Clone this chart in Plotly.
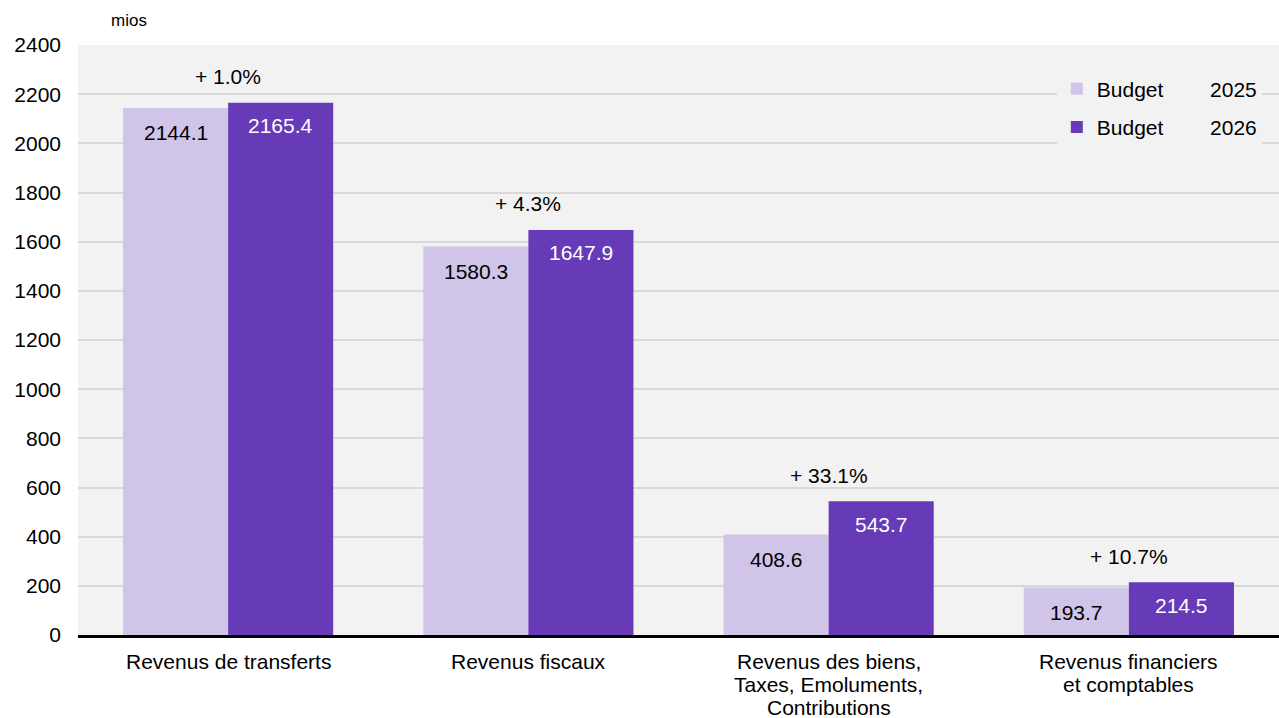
import plotly.graph_objects as go

categories = ["Revenus de transferts", "Revenus fiscaux",
              "Revenus des biens,<br>Taxes, Emoluments,<br>Contributions",
              "Revenus financiers<br>et comptables"]
budget_2025 = [2144.1, 1580.3, 408.6, 193.7]
budget_2026 = [2165.4, 1647.9, 543.7, 214.5]
pct_change = ["+ 1.0%", "+ 4.3%", "+ 33.1%", "+ 10.7%"]
series_names = ["Budget" + "\u00a0" * 8 + "2025",
                "Budget" + "\u00a0" * 8 + "2026"]
y_ticks = list(range(0, 2401, 200))
unit_label = "mios"

FONT = "Liberation Sans, Arial, sans-serif"
C25 = "#D1C4E9"
C26 = "#673AB7"
BG = "#F2F2F2"

x_idx = list(range(len(categories)))

fig = go.Figure()
fig.add_trace(go.Bar(x=x_idx, y=budget_2025, name=series_names[0], legendgroup="a",
                     marker=dict(color=C25, line=dict(width=0))))
fig.add_trace(go.Bar(x=x_idx, y=budget_2026, name=series_names[1], legendgroup="b",
                     marker=dict(color=C26, line=dict(width=0))))

annotations = []
bw = 0.7 / 2
for i, cat in enumerate(categories):
    annotations.append(dict(x=i - bw / 2, y=budget_2025[i], xref="x", yref="y",
                            text=f"{budget_2025[i]:.1f}", showarrow=False,
                            yanchor="middle", yshift=-25,
                            font=dict(family=FONT, size=21, color="black")))
    annotations.append(dict(x=i + bw / 2, y=budget_2026[i], xref="x", yref="y",
                            text=f"{budget_2026[i]:.1f}", showarrow=False,
                            yanchor="middle", yshift=-23,
                            font=dict(family=FONT, size=21, color="white")))
    annotations.append(dict(x=i, y=max(budget_2025[i], budget_2026[i]), xref="x", yref="y",
                            text=pct_change[i], showarrow=False,
                            yanchor="middle", yshift=26,
                            font=dict(family=FONT, size=21, color="black")))
    for j, line in enumerate(cat.split("<br>")):
        annotations.append(dict(x=i, y=0, xref="x", yref="paper",
                                text=line, showarrow=False,
                                yanchor="middle", yshift=-26 - j * 23,
                                font=dict(family=FONT, size=21, color="black")))

annotations.append(dict(x=0.0425, y=1, xref="paper", yref="paper", text=unit_label,
                        showarrow=False, xanchor="center", yanchor="middle", yshift=25,
                        font=dict(family=FONT, size=17, color="black")))

fig.update_layout(
    width=1279, height=718,
    margin=dict(l=78, r=0, t=45, b=83),
    paper_bgcolor="white",
    plot_bgcolor=BG,
    barmode="group",
    bargap=0.3,
    bargroupgap=0,
    font=dict(family=FONT, size=21, color="black"),
    legend=dict(x=0.815, y=0.96, xanchor="left", yanchor="top",
                bgcolor=BG, font=dict(family=FONT, size=21, color="black"),
                traceorder="grouped", tracegroupgap=8),
    annotations=annotations,
    xaxis=dict(range=[-0.5, len(categories) - 0.5], showticklabels=False,
               showgrid=False, zeroline=False, showline=True,
               linecolor="black", linewidth=2.5, tickvals=x_idx),
    yaxis=dict(range=[0, 2400], tickvals=y_ticks, showgrid=True,
               gridcolor="#D9D9D9", gridwidth=1.5, zeroline=False,
               showline=False, ticks="", ticklabelstandoff=16,
               tickfont=dict(family=FONT, size=21, color="black")),
)

fig.write_html("out.html", config={"displayModeBar": False},
               post_script="document.body.style.margin='0';")
